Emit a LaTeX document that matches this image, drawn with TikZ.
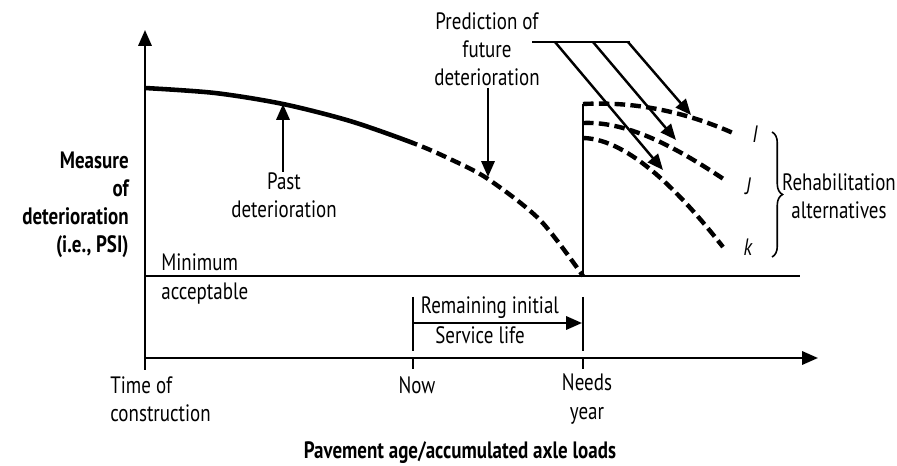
\documentclass[tikz,border=0pt]{standalone}
\usepackage{fontspec}
\setmainfont{PT Sans}[FakeStretch=0.8]
\usetikzlibrary{arrows.meta,decorations.pathreplacing}
\begin{document}
\begin{tikzpicture}[x=0.02cm,y=-0.02cm,
  axis/.style={line width=1.4pt},
  tipped/.style={-{Triangle[length=9pt,width=7.5pt]}},
  curve/.style={line width=2.6pt},
  dcurve/.style={line width=2.5pt,dash pattern=on 6pt off 3pt},
  lbl/.style={font=\fontsize{13.5}{16}\selectfont,inner sep=0pt,align=center},
  blbl/.style={lbl,font=\fontsize{13.5}{16}\selectfont\bfseries},
  pointer/.style={line width=1.4pt,tipped}]
\useasboundingbox (0,0) rectangle (897,466);
% axes
\coordinate (O) at (145,358);
\coordinate (Ytop) at (145,30);
\coordinate (Xend) at (818,358);
\draw[axis,tipped] (O) -- (Ytop);
\draw[axis,tipped] (O) -- (Xend);
\coordinate (t0) at (145,370);
\draw[axis] (O) -- (t0);
\coordinate (tn1) at (413,358); \coordinate (tn2) at (413,369);
\coordinate (ty1) at (583,358); \coordinate (ty2) at (583,369);
\draw[axis] (tn1) -- (tn2);
\draw[axis] (ty1) -- (ty2);
% minimum line
\coordinate (m1) at (145,276);
\coordinate (m2) at (800,276);
\draw[axis] (m1) -- (m2);
% main curve
\begin{scope}
\clip (0,0) rectangle (413,466);
\draw[curve] plot[smooth] coordinates {(145,88) (215,93) (283,104) (350,121) (413,143) (450,159) (488,179) (540,220) (583,276)};
\end{scope}
\begin{scope}
\clip (413,0) rectangle (897,466);
\draw[dcurve] plot[smooth] coordinates {(145,88) (215,93) (283,104) (350,121) (413,143) (450,159) (488,179) (540,220) (583,276)};
\end{scope}
% needs year vertical
\coordinate (nb) at (583,276);
\coordinate (nt) at (583,104);
\draw[axis] (nb) -- (nt);
% alternatives
\coordinate (a1) at (583,104); \coordinate (e1) at (733,133);
\coordinate (a2) at (583,123); \coordinate (e2) at (725,180);
\coordinate (a3) at (583,138); \coordinate (e3) at (723,247);
\draw[dcurve] (a1) .. controls (640,101) and (690,114) .. (e1);
\draw[dcurve] (a2) .. controls (630,121) and (680,150) .. (e2);
\draw[dcurve] (a3) .. controls (630,139) and (683,196) .. (e3);
\node[lbl,font=\fontsize{13.5}{16}\selectfont\itshape] (lI) at (755,134) {I};
\node[lbl,font=\fontsize{13.5}{16}\selectfont\itshape] (lJ) at (748,186) {J};
\node[lbl,font=\fontsize{13.5}{16}\selectfont\itshape] (lk) at (748,247) {k};
% brace
\coordinate (b1) at (772,132);
\coordinate (b2) at (772,257);
\draw[decorate,decoration={brace,amplitude=6pt},line width=0.9pt] (b1) -- (b2);
\node[lbl] (rehab) at (839,196) {Rehabilitation\\alternatives};
% prediction
\node[lbl] (pred) at (487,49) {Prediction of\\future\\deterioration};
\coordinate (pa) at (488,88);
\coordinate (pc) at (488,177);
\draw[pointer] (pa) -- (pc);
\coordinate (bar1) at (532,42);
\coordinate (bar2) at (630,42);
\draw[axis] (bar1) -- (bar2);
\coordinate (s1) at (555,42); \coordinate (f1) at (663,170);
\coordinate (s2) at (593,42); \coordinate (f2) at (676,140);
\coordinate (s3) at (628,42); \coordinate (f3) at (691,115);
\draw[pointer] (s1) -- (f1);
\draw[pointer] (s2) -- (f2);
\draw[pointer] (s3) -- (f3);
% past deterioration
\node[lbl] (past) at (284,195) {Past\\deterioration};
\coordinate (pp1) at (283,172);
\coordinate (pp2) at (283,104);
\draw[pointer] (pp1) -- (pp2);
% y label
\node[blbl,align=right,anchor=east] (ylab) at (129,205) {Measure\\of\\deterioration\\(i.e., PSI)};
% minimum acceptable
\node[lbl,align=left,anchor=west] (minacc) at (161,279) {Minimum\\acceptable};
% remaining life
\coordinate (r1a) at (413,297); \coordinate (r1b) at (413,351);
\coordinate (r2a) at (583,297); \coordinate (r2b) at (583,351);
\draw[axis] (r1a) -- (r1b);
\draw[axis] (r2a) -- (r2b);
\coordinate (ra) at (413,323);
\coordinate (rb) at (582,323);
\draw[pointer] (ra) -- (rb);
\node[lbl] (rem1) at (490,308) {Remaining initial};
\node[lbl] (rem2) at (480,335) {Service life};
% x labels
\node[lbl,align=left,anchor=west] (tc) at (110,399) {Time of\\construction};
\node[lbl] (now) at (417,385) {Now};
\node[lbl] (ny) at (587,399) {Needs\\year};
\node[blbl] (xlab) at (460,453) {Pavement age/accumulated axle loads};
\end{tikzpicture}
\end{document}
